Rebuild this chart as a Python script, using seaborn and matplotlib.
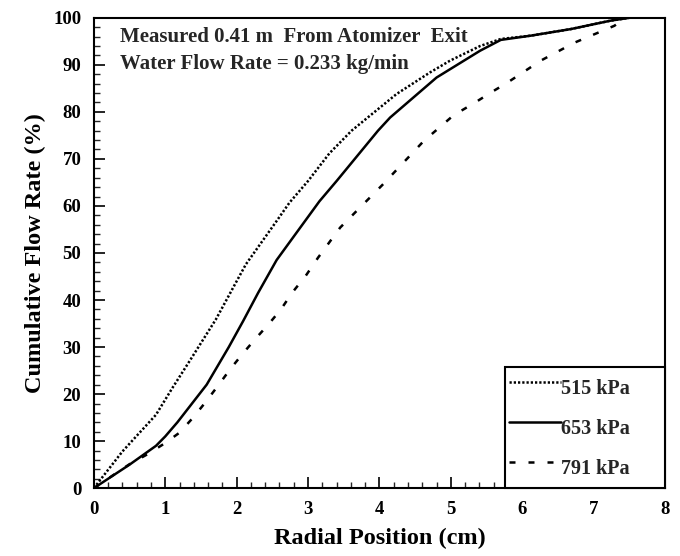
import matplotlib
matplotlib.use("Agg")
import matplotlib.pyplot as plt
import seaborn as sns
import pandas as pd
from matplotlib.ticker import MultipleLocator
from matplotlib.lines import Line2D

# --- data ---
x_515 = [0, 0.4, 0.87, 1.10, 1.34, 1.71, 2.0, 2.13, 2.56, 2.74, 3.0, 3.3, 3.61, 4.24, 4.71, 4.99, 5.41, 5.7, 6.12, 6.68, 7.24, 7.5]
y_515 = [0, 7.8, 15.6, 21.3, 27, 35.9, 44, 47.6, 56.8, 60.7, 65.3, 71.2, 76, 83.8, 88.4, 90.9, 94, 95.5, 96.2, 97.6, 99.4, 100]

x_653 = [0, 0.5, 0.87, 1.0, 1.17, 1.58, 1.89, 2.09, 2.3, 2.56, 2.79, 3.16, 3.4, 3.98, 4.15, 4.8, 5.41, 5.7, 6.12, 6.68, 7.24, 7.5]
y_653 = [0, 5.0, 9.0, 11, 14, 22, 30, 35.5, 41.5, 48.5, 53.3, 61, 65.3, 76, 78.8, 87.3, 93, 95.3, 96.2, 97.6, 99.4, 100]

x_791 = [0, 0.5, 0.75, 0.99, 1.2, 1.39, 1.56, 1.75, 1.91, 2.08, 2.26, 2.45, 2.62, 2.78, 2.97, 3.14,
         3.45, 4.05, 4.62, 5.04, 5.32, 5.56, 5.79, 6.26, 6.73, 7.29, 7.45]
y_791 = [0, 5.1, 7.2, 9.5, 11.8, 15, 18.2, 22, 25.3, 28.5, 31.7, 34.9, 38, 41.6, 45.2, 49,
         55.4, 64.6, 73.8, 79.3, 81.8, 84.1, 86.2, 90.9, 94.7, 98.3, 100]

labels = ["515 kPa", "653 kPa", "791 kPa"]
x_ticks = [0, 1, 2, 3, 4, 5, 6, 7, 8]
y_ticks = [0, 10, 20, 30, 40, 50, 60, 70, 80, 90, 100]

df = pd.concat([
    pd.DataFrame({"x": x_515, "y": y_515, "series": labels[0]}),
    pd.DataFrame({"x": x_653, "y": y_653, "series": labels[1]}),
    pd.DataFrame({"x": x_791, "y": y_791, "series": labels[2]}),
], ignore_index=True)

sns.set_theme(style="white")
plt.rcParams["font.family"] = ["Liberation Serif", "DejaVu Serif"]
plt.rcParams["font.weight"] = "bold"

fig = plt.figure(figsize=(6.8, 5.56), dpi=100)
ax = fig.add_axes([0.138, 0.122, 0.840, 0.846])

LW = 1.8
dot_pat = (0.9, 0.8)
dash_pat = (2.4, 5.2)
dash_map = {labels[0]: dot_pat, labels[1]: "", labels[2]: dash_pat}
sns.lineplot(data=df, x="x", y="y", style="series", dashes=dash_map,
             color="black", linewidth=LW, estimator=None, sort=False,
             legend=False, ax=ax)

ax.set_xlim(0, 8)
ax.set_ylim(0, 100)
ax.set_xticks(x_ticks)
ax.set_yticks(y_ticks)
ax.xaxis.set_minor_locator(MultipleLocator(0.2))
ax.yaxis.set_minor_locator(MultipleLocator(2))
ax.tick_params(axis="both", which="major", direction="in", length=8, width=1.2,
               labelsize=13.5, colors="black", bottom=True, left=True, pad=9)
ax.tick_params(axis="both", which="minor", direction="in", length=4, width=1,
               bottom=True, left=True)
for lbl in ax.get_xticklabels() + ax.get_yticklabels():
    lbl.set_fontweight("bold")

for sp in ax.spines.values():
    sp.set_color("black")
    sp.set_linewidth(1.5)

ax.set_xlabel("Radial Position (cm)", fontsize=17.5, fontweight="bold", color="black", labelpad=7)
ax.set_ylabel("Cumulative Flow Rate (%)", fontsize=17.5, fontweight="bold", color="black", labelpad=5)

ax.text(0.045, 0.980, "Measured 0.41 m  From Atomizer  Exit", transform=ax.transAxes,
        fontsize=15, fontweight="bold", va="top", ha="left")
ax.text(0.045, 0.922, "Water Flow Rate = 0.233 kg/min", transform=ax.transAxes,
        fontsize=15, fontweight="bold", va="top", ha="left")

handles = [Line2D([], [], color="black", lw=LW, ls=(0, dot_pat)),
           Line2D([], [], color="black", lw=LW, ls="-"),
           Line2D([], [], color="black", lw=LW, ls=(0, dash_pat))]
leg = ax.legend(handles, labels, loc="lower left", bbox_to_anchor=(0.72, 0.0, 0.28, 0.255),
                mode="expand", borderaxespad=0, frameon=True, fancybox=False, edgecolor="black",
                handlelength=2.6, handleheight=2.2, handletextpad=0.0, labelspacing=0.3,
                borderpad=0.2, prop={"weight": "bold", "size": 14.5})
leg.get_frame().set_linewidth(1.5)
leg.get_frame().set_alpha(1)

fig.savefig("out.png", dpi=100)
